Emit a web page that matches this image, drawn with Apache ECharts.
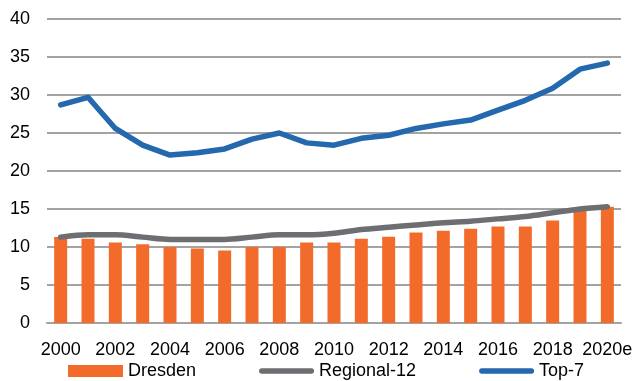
<!DOCTYPE html>
<html>
<head>
<meta charset="utf-8">
<script src="https://cdn.jsdelivr.net/npm/echarts@6/dist/echarts.min.js"></script>
<style>
  html, body { margin: 0; padding: 0; background: #fff; }
  #main { width: 635px; height: 381px; }
</style>
</head>
<body>
<div id="main"></div>
<script>
var years = ['2000', '2001', '2002', '2003', '2004', '2005', '2006', '2007', '2008', '2009', '2010',
  '2011', '2012', '2013', '2014', '2015', '2016', '2017', '2018', '2019', '2020e'];
var dresden = [11.3, 11.1, 10.6, 10.35, 10.0, 9.8, 9.55, 10.0, 10.0, 10.6, 10.6,
  11.1, 11.35, 11.9, 12.15, 12.4, 12.7, 12.7, 13.5, 14.9, 15.3];
var regional12 = [11.3, 11.6, 11.6, 11.3, 11.0, 11.0, 11.0, 11.3, 11.6, 11.6, 11.8,
  12.3, 12.6, 12.9, 13.2, 13.4, 13.7, 14.0, 14.5, 15.0, 15.3];
var top7 = [28.7, 29.7, 25.6, 23.4, 22.1, 22.4, 22.9, 24.2, 25.0, 23.7, 23.4,
  24.3, 24.7, 25.6, 26.2, 26.7, 28.0, 29.3, 30.9, 33.4, 34.2];

var orange = '#f36b2b';
var grey = '#6d6e71';
var blue = '#2468ae';
var gridColor = '#a3a3a3';
var font = 'Liberation Sans, Arial, sans-serif';
// rounded bar centred in a 55x12 box, so line items look like thick lines
var lineIcon = 'path://M0,0L0.01,0L0,0Z M0,12L0.01,12L0,12Z ' +
  'M2.75,3.25L52.25,3.25A2.75,2.75 0 0 1 52.25,8.75L2.75,8.75A2.75,2.75 0 0 1 2.75,3.25Z';

var chart = echarts.init(document.getElementById('main'));
chart.setOption({
  animation: false,
  textStyle: { fontFamily: font },
  grid: { left: 47, right: 14, top: 19, bottom: 58, outerBoundsMode: 'none' },
  legend: {
    bottom: -4,
    left: 63,
    itemGap: 63,
    itemWidth: 55,
    itemHeight: 12,
    textStyle: { fontSize: 18, color: '#000', fontFamily: font },
    data: [
      { name: 'Dresden', icon: 'rect' },
      { name: 'Regional-12', icon: lineIcon },
      { name: 'Top-7', icon: lineIcon }
    ]
  },
  xAxis: {
    type: 'category',
    data: years,
    axisLine: { show: true, lineStyle: { color: gridColor, width: 2 } },
    axisTick: { show: false },
    axisLabel: { interval: 1, fontSize: 18, color: '#000', margin: 18, fontFamily: font }
  },
  yAxis: {
    type: 'value',
    min: 0,
    max: 40,
    interval: 5,
    axisLine: { show: false },
    axisTick: { show: false },
    axisLabel: { fontSize: 18, color: '#000', margin: 17, fontFamily: font },
    splitLine: { lineStyle: { color: gridColor, width: 2 } }
  },
  series: [
    {
      name: 'Dresden',
      type: 'bar',
      data: dresden,
      barWidth: 13,
      itemStyle: { color: orange }
    },
    {
      name: 'Regional-12',
      type: 'line',
      data: regional12,
      symbol: 'none',
      smooth: 0.3,
      lineStyle: { color: grey, width: 5.5, cap: 'round', join: 'round' },
      itemStyle: { color: grey }
    },
    {
      name: 'Top-7',
      type: 'line',
      data: top7,
      symbol: 'none',
      lineStyle: { color: blue, width: 5.5, cap: 'round', join: 'round' },
      itemStyle: { color: blue }
    }
  ]
});
</script>
</body>
</html>
